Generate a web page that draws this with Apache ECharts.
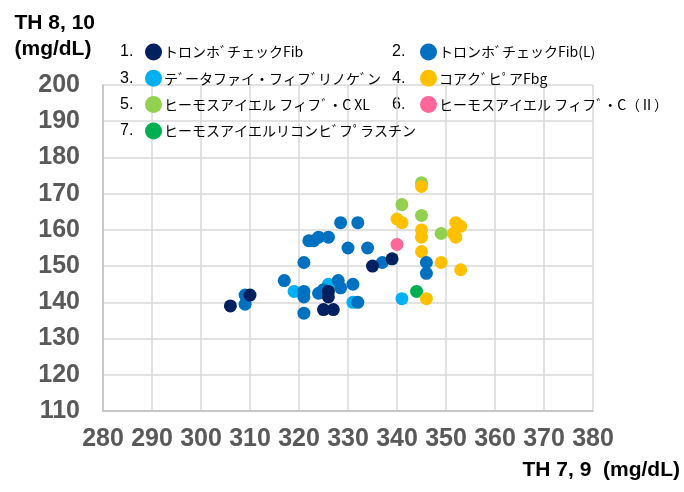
<!DOCTYPE html>
<html>
<head>
<meta charset="utf-8">
<script src="https://cdn.jsdelivr.net/npm/echarts@6/dist/echarts.min.js"></script>
<style>
  html, body { margin: 0; background: #fff; }
  #chart { width: 684px; height: 492px; }
</style>
</head>
<body>
<div id="chart"></div>
<script>
// series names, in legend order 1..7
const names = [
  'トロンホﾞチェックFib',
  'トロンホﾞチェックFib(L)',
  'テﾞータファイ・フィフﾞリノケﾞン',
  'コアクﾞヒﾟアFbg',
  'ヒーモスアイエル フィフﾞ・C XL',
  'ヒーモスアイエル フィフﾞ・C（Ⅱ）',
  'ヒーモスアイエルリコンヒﾞフﾟラスチン'
]
const colors = ['#002060', '#0070C0', '#00B0F0', '#FFC000', '#92D050', '#FF6699', '#00B050']

// [TH 7,9 , TH 8,10] in mg/dL
const fib = [[306, 139], [310, 142], [326, 143], [326, 141.5], [325, 138], [327, 138], [335, 150], [339, 152]]
const fibL = [
  [309, 142], [309, 139.5], [317, 146], [321, 143], [321, 141.5], [321, 137], [321, 151],
  [322, 157], [323, 157], [324, 158], [326, 158], [328.5, 162], [332, 162], [330, 155],
  [334, 155], [324, 142.5], [325, 143.5], [328, 146], [328.5, 144], [331, 145], [332, 140],
  [337, 151], [346, 151], [346, 148]
]
const dataFi = [[319, 143], [326, 145], [331, 140], [341, 141]]
const coagpia = [
  [345, 172], [340, 163], [341, 162], [345, 160], [345, 158], [352, 162], [353, 161],
  [351.5, 159], [352, 158], [345, 154], [349, 151], [353, 149], [346, 141]
]
const hemosXL = [[345, 173], [341, 167], [345, 164], [349, 159]]
const hemos2 = [[340, 156]]
const recombi = [[344, 143]]

const xMin = 280, xMax = 380, xStep = 10
const yMin = 110, yMax = 200, yStep = 10

const seriesData = [fib, fibL, dataFi, coagpia, hemosXL, hemos2, recombi]

const chart = echarts.init(document.getElementById('chart'))

const labelFont = {
  color: '#595959',
  fontFamily: 'Liberation Sans, Arial, sans-serif',
  fontWeight: 'bold',
  fontSize: 25
}
const legendText = {
  color: '#000',
  fontFamily: 'Noto Sans CJK JP, sans-serif',
  fontSize: 14,
  lineHeight: 17,
  padding: [0, 0, 0, -3]
}
const rowY = [52, 78.3, 104.6, 131]

// "1." "2." ... before each legend marker
const numbers = names.map((n, i) => ({
  type: 'text',
  left: i % 2 === 0 ? 120 : 392,
  top: rowY[Math.floor(i / 2)] - 8,
  style: {
    text: (i + 1) + '.',
    fill: '#000',
    font: '16px Liberation Sans, Arial, sans-serif'
  }
}))

chart.setOption({
  animation: false,
  grid: { left: 103, right: 91, top: 85, bottom: 81, containLabel: false },
  xAxis: {
    type: 'value',
    min: xMin,
    max: xMax,
    interval: xStep,
    axisLine: { show: true, lineStyle: { color: '#bfbfbf', width: 1.5 } },
    axisTick: { show: false },
    splitLine: { show: true, lineStyle: { color: '#d9d9d9', width: 1.5 } },
    axisLabel: { ...labelFont, margin: 16 }
  },
  yAxis: {
    type: 'value',
    min: yMin,
    max: yMax,
    interval: yStep,
    axisLine: { show: true, lineStyle: { color: '#bfbfbf', width: 1.5 } },
    axisTick: { show: false },
    splitLine: { show: true, lineStyle: { color: '#d9d9d9', width: 1.5 } },
    axisLabel: { ...labelFont, margin: 23 }
  },
  legend: [
    {
      data: [names[0], names[2], names[4], names[6]],
      orient: 'vertical',
      left: 145,
      top: 43.5,
      icon: 'circle',
      itemWidth: 17,
      itemHeight: 17,
      itemGap: 9.3,
      padding: 0,
      textStyle: legendText
    },
    {
      data: [names[1], names[3], names[5]],
      orient: 'vertical',
      left: 420,
      top: 43.5,
      icon: 'circle',
      itemWidth: 17,
      itemHeight: 17,
      itemGap: 9.3,
      padding: 0,
      textStyle: legendText
    }
  ],
  graphic: [
    ...numbers,
    {
      type: 'text',
      right: 589,
      top: 10,
      style: {
        text: 'TH 8, 10\n(mg/dL)',
        fill: '#000',
        align: 'right',
        lineHeight: 26,
        font: 'bold 21px Liberation Sans, Arial, sans-serif'
      }
    },
    {
      type: 'text',
      right: 4,
      top: 460,
      style: {
        text: 'TH 7, 9  (mg/dL)',
        fill: '#000',
        font: 'bold 21px Liberation Sans, Arial, sans-serif'
      }
    }
  ],
  // later series are drawn on top, so series 1 goes last
  series: names.map((n, i) => ({
    name: n,
    type: 'scatter',
    data: seriesData[i],
    symbolSize: 13,
    itemStyle: { color: colors[i], opacity: 1 },
    emphasis: { disabled: true }
  })).reverse()
})
</script>
</body>
</html>
